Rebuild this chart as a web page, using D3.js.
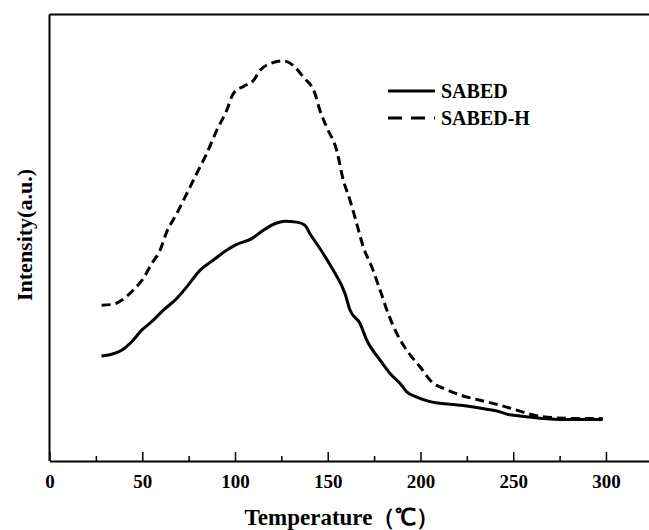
<!DOCTYPE html>
<html lang="en">

<head>
    <meta charset="UTF-8">
    <title>TPD curves</title>
    <script type='text/javascript' src='https://d3js.org/d3.v7.min.js'></script>
    <style>
        body { margin: 0; background: #fff; }
        text { font-family: "Liberation Serif", "Times New Roman", serif; font-weight: bold; fill: #000; }
    </style>
</head>

<body>
    <script>
        // temperatures (C) and intensities (a.u.)
        const tempSabed = [28, 33.5, 38.9, 44.3, 49.7, 55.1, 61.4, 68.6, 74, 81.1, 88.3, 95.5, 100.9, 109, 115.3,
            122.5, 127, 133.3, 137.7, 140.4, 145.8, 150.3, 153, 159.3, 162, 167.4, 171, 178.2, 183.6, 188.9,
            192.6, 198, 205.1, 215.9, 224.9, 235.7, 242.9, 246.5, 253.6, 264.4, 278.8, 298.2];
        const sabed = [23.5, 23.9, 24.8, 26.7, 29.3, 31.2, 33.8, 36.4, 39.0, 42.7, 45.0, 47.2, 48.5, 49.8, 51.7,
            53.3, 53.7, 53.5, 52.8, 50.9, 47.6, 44.6, 42.7, 37.5, 33.8, 30.8, 27.1, 22.6, 19.6, 17.4,
            15.5, 14.3, 13.3, 12.7, 12.3, 11.6, 11.0, 10.5, 10.1, 9.6, 9.3, 9.3];

        const tempSabedH = [28.1, 34.4, 38.9, 45.2, 50.6, 55.1, 59.6, 63.2, 68.6, 74, 79.4, 84.7, 90.1, 95.5, 99.1,
            104.5, 109.9, 113.5, 118.9, 126, 131.4, 136.8, 143.1, 145.8, 149.4, 154.8, 158.4, 162, 165.6, 169.2,
            173.7, 178.2, 182.6, 187.2, 192.6, 199.7, 206.9, 212.3, 221.3, 232.1, 242.9, 251.9, 260.8, 271.6,
            287.8, 298.2];
        const sabedH = [34.9, 35.1, 36.0, 38.3, 40.9, 44.2, 47.2, 51.3, 55.4, 59.9, 64.4, 68.8, 74.0, 78.5, 82.3,
            83.9, 85.2, 87.5, 89.0, 89.6, 88.6, 86.0, 82.3, 78.5, 74.8, 69.6, 62.9, 58.4, 53.2, 47.9,
            43.5, 38.3, 33.0, 28.6, 24.8, 21.1, 17.4, 16.3, 14.8, 13.6, 12.5, 11.4, 10.3, 9.7,
            9.5, 9.5];

        const seriesNames = ["SABED", "SABED-H"];
        const xTicks = [0, 50, 100, 150, 200, 250, 300];
        const xMinorTicks = [25, 75, 125, 175, 225, 275];

        const W = 649, H = 530;
        const plotLeft = 49.5, plotTop = 14.5, plotBottom = 461;

        const svg = d3.select('body').append('svg')
            .attr('width', W).attr('height', H);

        // x axis runs past 300, plot is cut at right edge
        const x = d3.scaleLinear().domain([0, 323.2]).range([plotLeft, W]);
        const y = d3.scaleLinear().domain([0, 100]).range([plotBottom, plotTop]);

        // frame: top and left lines
        svg.append('line').attr('x1', plotLeft).attr('x2', W).attr('y1', plotTop).attr('y2', plotTop)
            .attr('stroke', '#000').attr('stroke-width', 2);
        svg.append('line').attr('x1', plotLeft).attr('x2', plotLeft).attr('y1', plotTop).attr('y2', plotBottom)
            .attr('stroke', '#000').attr('stroke-width', 2);

        // bottom axis, ticks pointing inside
        const xAxis = svg.append('g')
            .attr('transform', 'translate(0,' + plotBottom + ')')
            .call(d3.axisBottom(x).tickValues(xTicks).tickSizeInner(-9).tickSizeOuter(0).tickPadding(14));
        xAxis.select('.domain').attr('stroke-width', 2);
        xAxis.selectAll('.tick line').attr('stroke-width', 1.5);
        xAxis.selectAll('.tick text')
            .style('font-family', '"Liberation Serif", serif')
            .style('font-weight', 'bold')
            .style('font-size', '19px');

        svg.append('g')
            .attr('transform', 'translate(0,' + plotBottom + ')')
            .call(d3.axisBottom(x).tickValues(xMinorTicks).tickSizeInner(-5).tickSizeOuter(0).tickFormat(''))
            .call(g => g.select('.domain').remove())
            .selectAll('.tick line').attr('stroke-width', 1.5);

        // axis titles
        svg.append('text')
            .attr('x', 342).attr('y', 525)
            .attr('text-anchor', 'middle')
            .style('font-size', '23px')
            .text('Temperature（℃）');

        svg.append('text')
            .attr('transform', 'translate(32,235) rotate(-90)')
            .attr('text-anchor', 'middle')
            .style('font-size', '22px')
            .text('Intensity(a.u.)');

        // curves
        const line = d3.line()
            .x(function (d) { return x(d[0]); })
            .y(function (d) { return y(d[1]); })
            .curve(d3.curveMonotoneX);

        svg.append('path')
            .datum(d3.zip(tempSabed, sabed))
            .attr('fill', 'none').attr('stroke', '#000').attr('stroke-width', 3)
            .attr('d', line);

        svg.append('path')
            .datum(d3.zip(tempSabedH, sabedH))
            .attr('fill', 'none').attr('stroke', '#000').attr('stroke-width', 3)
            .attr('stroke-dasharray', '9,5')
            .attr('d', line);

        // legend
        const legend = svg.append('g').attr('transform', 'translate(388,91)');
        seriesNames.forEach(function (name, i) {
            legend.append('line')
                .attr('x1', 0).attr('x2', 47).attr('y1', i * 27).attr('y2', i * 27)
                .attr('stroke', '#000').attr('stroke-width', 3)
                .attr('stroke-dasharray', i === 1 ? '14,9' : null);
            legend.append('text')
                .attr('x', 53).attr('y', i * 27 + 7)
                .style('font-size', '20px')
                .text(name);
        });
    </script>
</body>

</html>
